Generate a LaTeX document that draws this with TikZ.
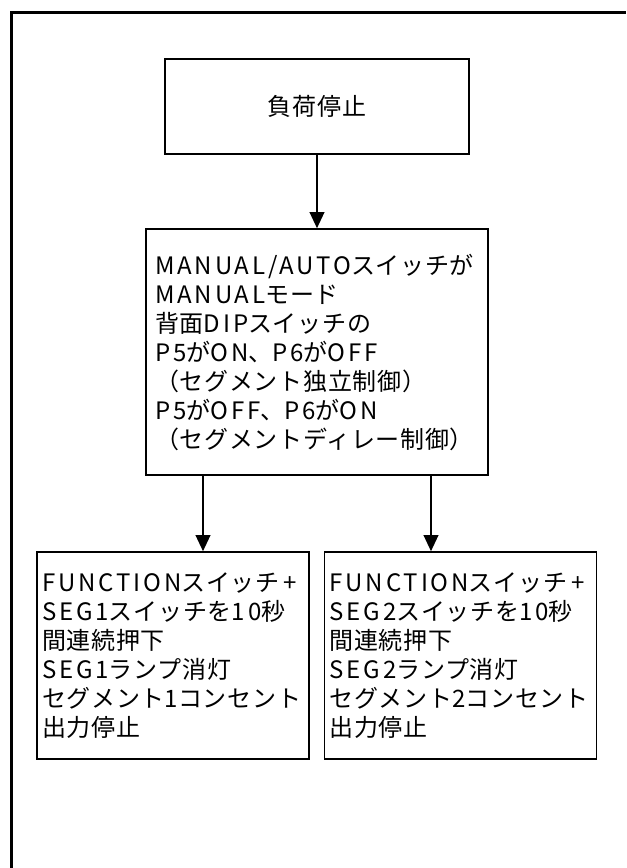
\documentclass[tikz,border=0pt]{standalone}
\usepackage{fontspec}
\setmainfont[LetterSpace=3]{Noto Sans CJK JP}
\newfontfamily\widelatin[LetterSpace=12]{Noto Sans CJK JP}
\newcommand\wl[1]{{\widelatin #1}}
\usetikzlibrary{positioning, arrows.meta, calc}

\begin{document}
\begin{tikzpicture}[
  x=0.75pt, y=-0.75pt,
  font=\fontsize{18pt}{21.75pt}\selectfont,
  frame/.style={line width=2.25pt},
  stopbox/.style={draw, line width=1.2pt, minimum width=228pt, minimum height=71.25pt, inner sep=0pt},
  condbox/.style={draw, line width=1.2pt, align=left,
    text width=243pt, minimum height=184.5pt, inner xsep=6.75pt, inner ysep=0pt},
  segbox/.style={draw, line width=1.2pt, align=left,
    text width=196.5pt, minimum height=155.25pt, inner xsep=3.75pt, inner ysep=0pt},
  flow/.style={-{Triangle[length=12pt, width=11pt]}, line width=1.2pt}
]
\useasboundingbox (0,0) rectangle (626,868);

% --- outer frame (runs off the page at right and bottom) ---
\draw[frame] (11,868) -- (11,12) -- (626,12);

% --- start: load stop ---
\node[stopbox] (stop) at (317,106.5) {負荷停止};

% --- condition: switch and DIP settings ---
\node[condbox] (mode) at (317,352)
  {\wl{MANUAL/AUTO}スイッチが\\
   \wl{MANUAL}モード\\
   背面\wl{DIP}スイッチの\\
   \wl{P5}が\wl{ON}、\wl{P6}が\wl{OFF}\\
   （セグメント独立制御）\\
   \wl{P5}が\wl{OFF}、\wl{P6}が\wl{ON}\\
   （セグメントディレー制御）};

% --- one result per segment ---
\node[segbox] (seg1) at (173,655.5)
  {\wl{FUNCTION}スイッチ\wl{\,+}\\
   \wl{SEG1}スイッチを\wl{10}秒\\
   間連続押下\\
   \wl{SEG1}ランプ消灯\\
   セグメント\wl{1}コンセント\\
   出力停止};
\node[segbox] (seg2) at (460.5,655.5)
  {\wl{FUNCTION}スイッチ\wl{\,+}\\
   \wl{SEG2}スイッチを\wl{10}秒\\
   間連続押下\\
   \wl{SEG2}ランプ消灯\\
   セグメント\wl{2}コンセント\\
   出力停止};

% --- connectors ---
\draw[flow] (stop) -- (mode);
\draw[flow] ([xshift=-85.5pt]mode.south) -- ([xshift=-85.5pt]mode.south |- seg1.north);
\draw[flow] ([xshift=85.5pt]mode.south) -- ([xshift=85.5pt]mode.south |- seg2.north);

\end{tikzpicture}
\end{document}
